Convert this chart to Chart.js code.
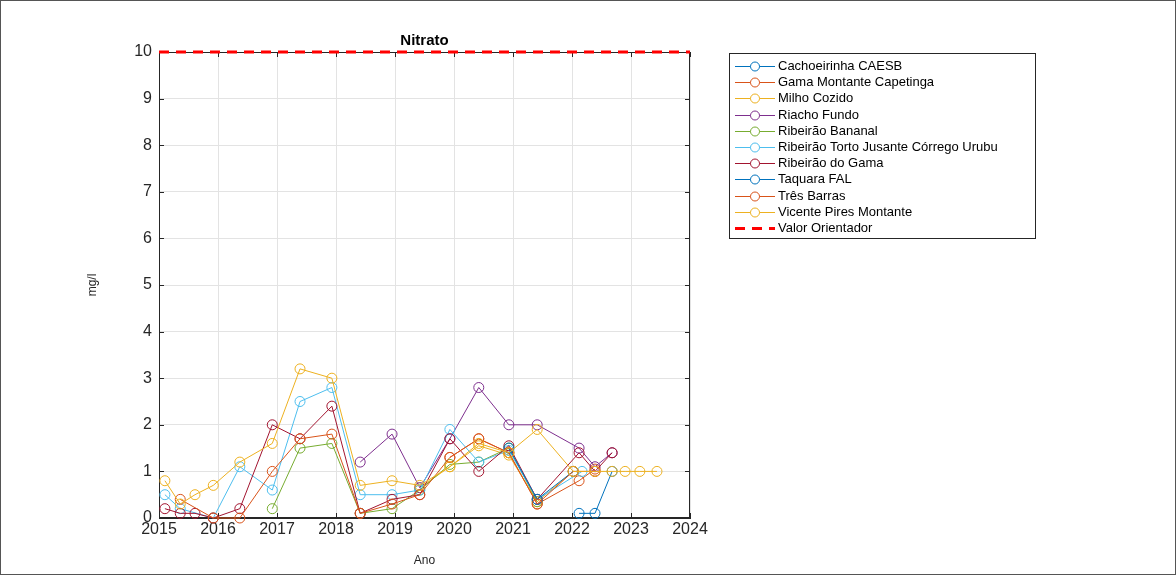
<!DOCTYPE html>
<html>
<head>
<meta charset="utf-8">
<script src="https://cdn.jsdelivr.net/npm/chart.js@4.4.1/dist/chart.umd.min.js"></script>
<style>
  html, body { margin: 0; padding: 0; background: #fff; }
  #wrap { position: relative; width: 1176px; height: 575px; }
</style>
</head>
<body>
<div id="wrap"><canvas id="c"></canvas></div>
<script>
// ---- Data ----
const chartTitle = 'Nitrato';
const xTitle = 'Ano';
const yTitle = 'mg/l';
const yearTicks = [2015, 2016, 2017, 2018, 2019, 2020, 2021, 2022, 2023, 2024];
const valueTicks = [0, 1, 2, 3, 4, 5, 6, 7, 8, 9, 10];

const seriesNames = [
  'Cachoeirinha CAESB',
  'Gama Montante Capetinga',
  'Milho Cozido',
  'Riacho Fundo',
  'Ribeirão Bananal',
  'Ribeirão Torto Jusante Córrego Urubu',
  'Ribeirão do Gama',
  'Taquara FAL',
  'Três Barras',
  'Vicente Pires Montante'
];

const cachoeirinhaX = [2022.12, 2022.39, 2022.68];
const cachoeirinhaY = [0.1, 0.1, 1.0];

const gamaMontanteX = [2019.93, 2020.42, 2020.93, 2021.41, 2022.12, 2022.39];
const gamaMontanteY = [1.3, 1.7, 1.4, 0.3, 0.8, 1.05];

const milhoCozidoX = [2019.42, 2019.93, 2020.42, 2020.93, 2021.41, 2022.02];
const milhoCozidoY = [0.65, 1.1, 1.55, 1.35, 0.35, 1.0];

const riachoFundoX = [2018.41, 2018.95, 2019.42, 2019.93, 2020.42, 2020.93, 2021.41, 2022.12, 2022.39, 2022.68];
const riachoFundoY = [1.2, 1.8, 0.65, 1.7, 2.8, 2.0, 2.0, 1.5, 1.1, 1.4];

const bananalX = [2016.92, 2017.39, 2017.93, 2018.41, 2018.95, 2019.42, 2019.93, 2020.42, 2020.93, 2021.41];
const bananalY = [0.2, 1.5, 1.6, 0.1, 0.2, 0.6, 1.15, 1.2, 1.5, 0.35];

const tortoX = [2015.10, 2015.36, 2015.92, 2016.37, 2016.92, 2017.39, 2017.93, 2018.41, 2018.95, 2019.42, 2019.93, 2020.42, 2020.93, 2021.41, 2022.17];
const tortoY = [0.5, 0.2, 0.0, 1.1, 0.6, 2.5, 2.8, 0.5, 0.5, 0.6, 1.9, 1.2, 1.45, 0.4, 1.0];

const gamaX = [2015.10, 2015.36, 2015.61, 2015.92, 2016.37, 2016.92, 2017.39, 2017.93, 2018.41, 2018.95, 2019.42, 2019.93, 2020.42, 2020.93, 2021.41, 2022.12, 2022.39, 2022.68];
const gamaY = [0.2, 0.1, 0.1, 0.0, 0.2, 2.0, 1.7, 2.4, 0.1, 0.4, 0.5, 1.7, 1.0, 1.55, 0.4, 1.4, 1.0, 1.4];

const taquaraX = [2020.93, 2021.41, 2022.02];
const taquaraY = [1.5, 0.4, 1.0];

const tresBarrasX = [2015.36, 2015.92, 2016.37, 2016.92, 2017.39, 2017.93, 2018.41, 2018.95, 2019.42, 2019.93, 2020.42, 2020.93, 2021.41, 2022.02, 2022.39];
const tresBarrasY = [0.4, 0.0, 0.0, 1.0, 1.7, 1.8, 0.1, 0.3, 0.5, 1.3, 1.7, 1.4, 0.3, 1.0, 1.0];

const vicenteX = [2015.10, 2015.36, 2015.61, 2015.92, 2016.37, 2016.92, 2017.39, 2017.93, 2018.41, 2018.95, 2019.42, 2019.93, 2020.42, 2020.93, 2021.41, 2022.02, 2022.39, 2022.68, 2022.90, 2023.15, 2023.44];
const vicenteY = [0.8, 0.3, 0.5, 0.7, 1.2, 1.6, 3.2, 3.0, 0.7, 0.8, 0.7, 1.1, 1.6, 1.4, 1.9, 1.0, 1.0, 1.0, 1.0, 1.0, 1.0];

const guideName = 'Valor Orientador';
const guideX = [2015, 2024];
const guideY = [10, 10];

const seriesX = [cachoeirinhaX, gamaMontanteX, milhoCozidoX, riachoFundoX, bananalX, tortoX, gamaX, taquaraX, tresBarrasX, vicenteX];
const seriesY = [cachoeirinhaY, gamaMontanteY, milhoCozidoY, riachoFundoY, bananalY, tortoY, gamaY, taquaraY, tresBarrasY, vicenteY];

// ---- Styles ----
const palette = ['#0072BD', '#D95319', '#EDB120', '#7E2F8E', '#77AC30', '#4DBEEE', '#A2142F'];
const FONT = '"Liberation Sans", Arial, Helvetica, sans-serif';

const zip = (xs, ys) => xs.map((x, i) => ({ x: x, y: ys[i] }));

const datasets = seriesNames.map((name, i) => ({
  label: name,
  data: zip(seriesX[i], seriesY[i]),
  borderColor: palette[i % palette.length],
  backgroundColor: 'rgba(0,0,0,0)',
  pointBackgroundColor: 'rgba(0,0,0,0)',
  pointBorderColor: palette[i % palette.length],
  pointBorderWidth: 1,
  pointRadius: 5,
  pointHoverRadius: 5,
  borderWidth: 1,
  tension: 0,
  clip: false,
  order: -i
}));
datasets.push({
  label: guideName,
  data: zip(guideX, guideY),
  borderColor: '#FF0000',
  backgroundColor: 'rgba(0,0,0,0)',
  borderWidth: 3,
  borderDash: [10, 7],
  pointRadius: 0,
  pointHoverRadius: 0,
  tension: 0,
  clip: false,
  order: -20
});

// frame: figure border, axes box + inward tick marks (MATLAB-like axes)
const framePlugin = {
  id: 'frame',
  beforeDatasetsDraw(chart) {
    const { ctx, chartArea: a, scales } = chart;
    ctx.save();
    ctx.strokeStyle = '#555';
    ctx.lineWidth = 1;
    ctx.strokeRect(0.5, 0.5, chart.width - 1, chart.height - 1);
    ctx.strokeStyle = '#262626';
    ctx.strokeRect(Math.round(a.left) + 0.5, Math.round(a.top) + 0.5, Math.round(a.right - a.left) - 1, Math.round(a.bottom - a.top) - 1);
    ctx.beginPath();
    yearTicks.forEach(v => {
      const px = Math.round(scales.x.getPixelForValue(v)) + 0.5;
      ctx.moveTo(px, a.bottom); ctx.lineTo(px, a.bottom - 5);
      ctx.moveTo(px, a.top); ctx.lineTo(px, a.top + 5);
    });
    valueTicks.forEach(v => {
      const py = Math.round(scales.y.getPixelForValue(v)) + 0.5;
      ctx.moveTo(a.left, py); ctx.lineTo(a.left + 5, py);
      ctx.moveTo(a.right, py); ctx.lineTo(a.right - 5, py);
    });
    ctx.stroke();
    ctx.restore();
  }
};

// boxed legend on the right, MATLAB style (line + marker)
const legendPlugin = {
  id: 'boxLegend',
  afterDraw(chart) {
    const ctx = chart.ctx;
    const x0 = 729, y0 = 53, w = 306, h = 185;
    ctx.save();
    ctx.fillStyle = '#fff';
    ctx.fillRect(x0, y0, w, h);
    ctx.strokeStyle = '#262626';
    ctx.lineWidth = 1;
    ctx.strokeRect(x0 + 0.5, y0 + 0.5, w, h);
    ctx.font = '13px ' + FONT;
    ctx.textBaseline = 'middle';
    chart.data.datasets.forEach((ds, i) => {
      const y = Math.round(66 + i * 16.2) + 0.5;
      ctx.strokeStyle = ds.borderColor;
      ctx.lineWidth = ds.borderWidth;
      ctx.setLineDash(ds.borderDash || []);
      ctx.beginPath();
      ctx.moveTo(735, y); ctx.lineTo(775, y);
      ctx.stroke();
      ctx.setLineDash([]);
      if (ds.pointRadius > 0) {
        ctx.fillStyle = '#fff';
        ctx.beginPath();
        ctx.arc(755, y, 4.5, 0, Math.PI * 2);
        ctx.fill();
        ctx.lineWidth = 1;
        ctx.stroke();
      }
      ctx.fillStyle = '#000';
      ctx.fillText(ds.label, 778, y);
    });
    ctx.restore();
  }
};

new Chart(document.getElementById('c'), {
  type: 'line',
  data: { datasets: datasets },
  plugins: [framePlugin, legendPlugin],
  options: {
    responsive: true,
    maintainAspectRatio: false,
    animation: false,
    events: [],
    layout: { padding: { left: 0, right: 486, top: 0, bottom: 0 } },
    plugins: {
      legend: { display: false },
      tooltip: { enabled: false },
      title: {
        display: true,
        text: chartTitle,
        fullSize: false,
        color: '#000',
        font: { family: FONT, size: 15, weight: 'bold', lineHeight: 1.2 },
        padding: { top: 32, bottom: 2 }
      }
    },
    scales: {
      x: {
        type: 'linear',
        min: 2015,
        max: 2024,
        afterBuildTicks: s => { s.ticks = yearTicks.map(v => ({ value: v })); },
        afterFit: s => { s.height = 57; },
        ticks: {
          color: '#262626',
          font: { family: FONT, size: 16 },
          padding: 2,
          maxRotation: 0,
          autoSkip: false,
          callback: v => String(v)
        },
        grid: { color: '#e3e3e3', lineWidth: 1, drawTicks: false },
        border: { display: true, color: '#262626', width: 1 },
        title: {
          display: true,
          text: xTitle,
          color: '#262626',
          font: { family: FONT, size: 12 },
          padding: { top: 4, bottom: 7 }
        }
      },
      y: {
        type: 'linear',
        min: 0,
        max: 10,
        afterBuildTicks: s => { s.ticks = valueTicks.map(v => ({ value: v })); },
        afterFit: s => { s.width = 159; },
        ticks: {
          color: '#262626',
          font: { family: FONT, size: 16 },
          padding: 7,
          callback: v => String(v)
        },
        grid: { color: '#e3e3e3', lineWidth: 1, drawTicks: false },
        border: { display: true, color: '#262626', width: 1 },
        title: {
          display: true,
          text: yTitle,
          color: '#262626',
          font: { family: FONT, size: 12 },
          padding: { top: 85, bottom: 0 }
        }
      }
    }
  }
});
</script>
</body>
</html>
